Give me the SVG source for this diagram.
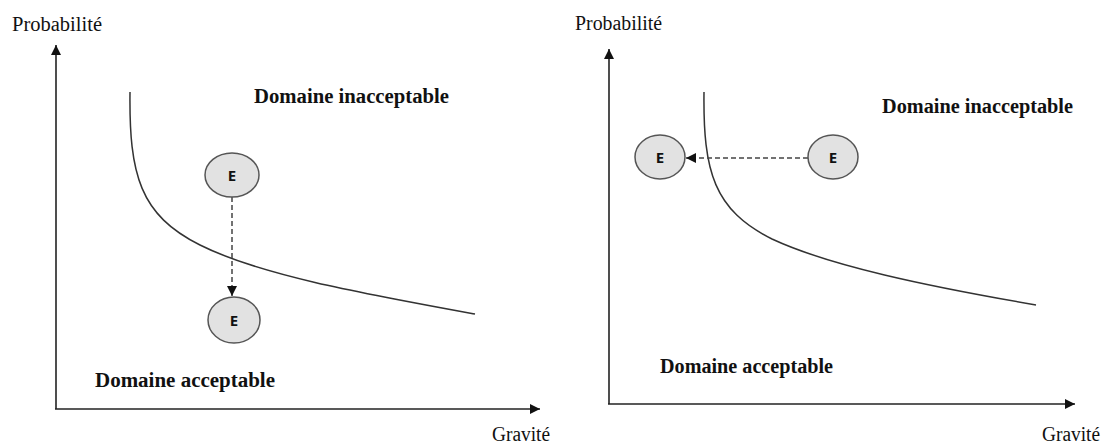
<svg xmlns="http://www.w3.org/2000/svg" width="1107" height="448" viewBox="0 0 1107 448">
<style>
.lbl{font-family:"Liberation Serif","Times New Roman",serif;font-size:20px;fill:#111}
.dom{font-family:"Liberation Serif","Times New Roman",serif;font-size:20.5px;font-weight:bold;fill:#111}
.e{font-family:"Open Sans","DejaVu Sans",sans-serif;font-size:15px;font-weight:bold;fill:#111;text-anchor:middle}
.node{fill:#e2e2e2;stroke:#555;stroke-width:1.5}
.axis{stroke:#222;stroke-width:1.6;fill:none}
.curve{stroke:#333;stroke-width:1.5;fill:none}
.dash{stroke:#444;stroke-width:1.5;stroke-dasharray:5,3;fill:none}
</style>
<defs>
<marker id="ah" viewBox="0 0 10 10" refX="10" refY="5" markerWidth="12" markerHeight="10" markerUnits="userSpaceOnUse" orient="auto"><path d="M0,0 L10,5 L0,10 Z" fill="#111"/></marker>
<marker id="sh" viewBox="0 0 10 10" refX="10" refY="5" markerWidth="10" markerHeight="10" markerUnits="userSpaceOnUse" orient="auto"><path d="M0,0 L10,5 L0,10 Z" fill="#111"/></marker>
</defs>
<g id="left-chart">
<text class="lbl" x="12" y="31" textLength="90" lengthAdjust="spacingAndGlyphs">Probabilité</text>
<text class="lbl" x="492" y="441" textLength="58" lengthAdjust="spacingAndGlyphs">Gravité</text>
<text class="dom" x="254" y="103" textLength="195" lengthAdjust="spacingAndGlyphs">Domaine inacceptable</text>
<text class="dom" x="95" y="387" textLength="180" lengthAdjust="spacingAndGlyphs">Domaine acceptable</text>
<path class="curve" d="M130,92 C129,175 140,215 200,245 C260,275 360,293 475,314"/>
</g>
<g id="right-chart">
<text class="lbl" x="575" y="30" textLength="87" lengthAdjust="spacingAndGlyphs">Probabilité</text>
<text class="lbl" x="1042" y="441" textLength="58" lengthAdjust="spacingAndGlyphs">Gravité</text>
<text class="dom" x="882" y="113" textLength="191" lengthAdjust="spacingAndGlyphs">Domaine inacceptable</text>
<text class="dom" x="660" y="373" textLength="173" lengthAdjust="spacingAndGlyphs">Domaine acceptable</text>
<path class="curve" d="M704,92 C703,172 714,210 772,239 C830,266 926,286 1036,305"/>
</g>
<g id="connectors">
<path class="axis" d="M56,409 L56,45" marker-end="url(#ah)"/>
<path class="axis" d="M55,409 L540,409" marker-end="url(#ah)"/>
<path class="axis" d="M609,404 L609,49" marker-end="url(#ah)"/>
<path class="axis" d="M608,404 L1075,404" marker-end="url(#ah)"/>
<path class="dash" d="M232,197 L232,296" marker-end="url(#sh)"/>
<path class="dash" d="M808,158 L686,158" marker-end="url(#sh)"/>
</g>
<g id="node-e1"><ellipse class="node" cx="232" cy="175" rx="27" ry="22"/><text class="e" x="232" y="181">E</text></g>
<g id="node-e2"><ellipse class="node" cx="234" cy="320" rx="26" ry="23"/><text class="e" x="234" y="326">E</text></g>
<g id="node-e3"><ellipse class="node" cx="660" cy="157" rx="25" ry="22"/><text class="e" x="660" y="163">E</text></g>
<g id="node-e4"><ellipse class="node" cx="833" cy="157" rx="25" ry="22"/><text class="e" x="833" y="163">E</text></g>
</svg>
